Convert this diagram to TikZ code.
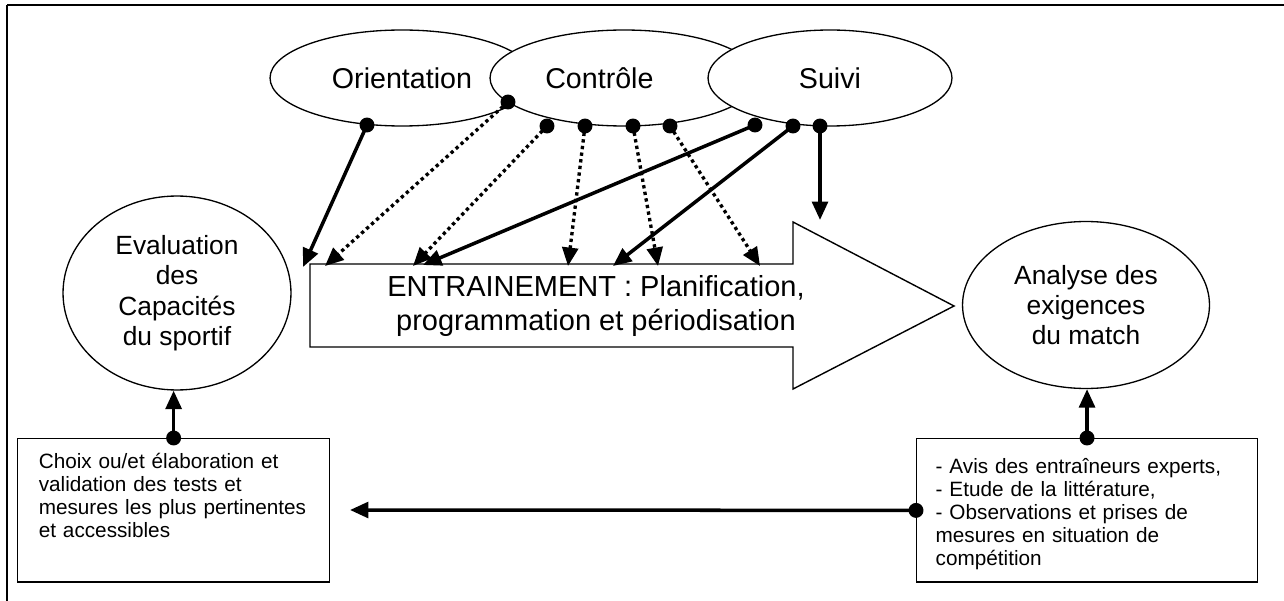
\documentclass[tikz,border=0pt]{standalone}
\usepackage{fontspec}
\setmainfont{Liberation Sans}
\usepackage{tikz}
\usetikzlibrary{shapes.geometric,arrows.meta}

\tikzset{
  bulle/.style={draw, ellipse, fill=white, line width=0.75pt, inner sep=0pt, align=center, font=\fontsize{16.3}{19.5}\selectfont},
  grandebulle/.style={bulle, font=\fontsize{15}{17.3}\selectfont},
  cadre/.style={draw, rectangle, line width=0.8pt, anchor=north west, inner ysep=0pt, align=left, font=\fontsize{11.8}{13.1}\selectfont},
  fleche/.style={line width=2pt, -{Triangle[length=10.5pt,width=9pt]}},
  pointille/.style={fleche, line width=1.9pt, dash pattern=on 1.9pt off 1.9pt},
  point/.style={circle, fill=black, inner sep=0pt, minimum size=8.5pt}
}

\begin{document}
\begin{tikzpicture}[x=0.02cm, y=-0.02cm]
    \useasboundingbox (0,0) rectangle (1284,601);
    \draw[line width=1.5pt] (7,5) -- (1284,5);
    \draw[line width=1pt] (7,5) -- (7,601);

    \node[bulle, minimum width=5.28cm, minimum height=1.92cm] (ori) at (402,78) {Orientation};
    \node[bulle, minimum width=5.36cm, minimum height=1.92cm] (ctrl) at (624,78) {Contrôle\hspace*{28pt}};
    \node[bulle, minimum width=4.88cm, minimum height=1.92cm] (suivi) at (830,78) {Suivi};
    \node[grandebulle, minimum width=4.56cm, minimum height=3.88cm] (eval) at (177,293) {Evaluation\\des\\Capacités\\du sportif};
    \node[grandebulle, minimum width=4.94cm, minimum height=3.34cm] (analyse) at (1086,305) {Analyse des\\exigences\\du match};

    \draw[line width=0.8pt] (310,264) -- (793,264) -- (793,222) -- (954,306) -- (793,389) -- (793,347) -- (310,347) -- cycle;
    \node[align=center, font=\fontsize{16.5}{19.8}\selectfont] (entr) at (596,306) {ENTRAINEMENT : Planification,\\programmation et périodisation};

    \node[cadre, text width=153.5pt, inner xsep=12pt, text height=17pt, text depth=64.6pt] (choix) at (17,438)
      {\mbox{Choix ou/et élaboration et}\\\mbox{validation des tests et}\\\mbox{mesures les plus pertinentes}\\\mbox{et accessibles}};
    \node[cadre, text width=172.3pt, inner xsep=10.8pt, text height=19.8pt, text depth=61.8pt] (avis) at (916,438)
      {\mbox{- Avis des entraîneurs experts,}\\\mbox{- Etude de la littérature,}\\\mbox{- Observations et prises de}\\\mbox{mesures en situation de}\\\mbox{compétition}};

    \coordinate (t1) at (303,267);
    \coordinate (t2) at (325,266);
    \coordinate (t3) at (413,266);
    \coordinate (t4) at (568,266);
    \coordinate (t5) at (658,266);
    \coordinate (t6) at (760,266);
    \coordinate (t7) at (423,265);
    \coordinate (t8) at (613,266);
    \coordinate (t9) at (820,220);
    \coordinate (gauche) at (350,510);

    \node[point] (p1) at (367,125) {};
    \node[point] (p2) at (508,102) {};
    \node[point] (p3) at (547,126) {};
    \node[point] (p4) at (585,126) {};
    \node[point] (p5) at (633,126) {};
    \node[point] (p6) at (670,126) {};
    \node[point] (p7) at (755,125) {};
    \node[point] (p8) at (793,126) {};
    \node[point] (p9) at (820,126) {};
    \node[point] (q1) at (choix.north) {};
    \node[point] (q2) at (avis.north) {};
    \node[point] (q3) at (avis.west) {};

    \draw[fleche] (p1.center) -- (t1);
    \draw[pointille] (p2.center) -- (t2);
    \draw[pointille] (p3.center) -- (t3);
    \draw[pointille] (p4.center) -- (t4);
    \draw[pointille] (p5.center) -- (t5);
    \draw[pointille] (p6.center) -- (t6);
    \draw[fleche] (p7.center) -- (t7);
    \draw[fleche] (p8.center) -- (t8);
    \draw[fleche] (p9.center) -- (t9);
    \draw[fleche] (q1.center) -- (q1.center |- eval.south);
    \draw[fleche] (q2.center) -- (q2.center |- analyse.south);
    \draw[fleche] (q3.center) -- (gauche);
\end{tikzpicture}
\end{document}
